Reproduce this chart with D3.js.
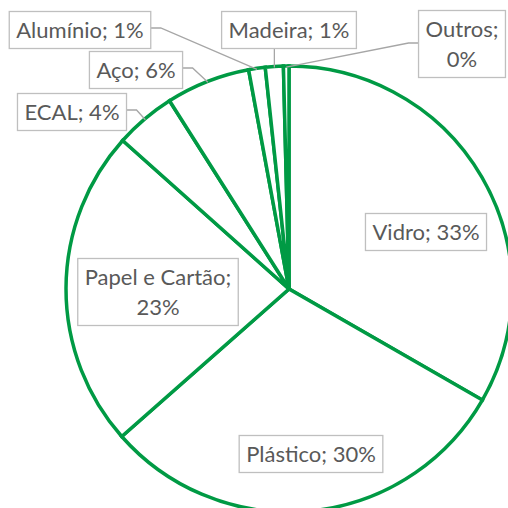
<!DOCTYPE html>
<html>
<head>
<meta charset="utf-8">
<script src="https://cdn.jsdelivr.net/npm/d3@7"></script>
<style>
  html, body { margin: 0; padding: 0; background: #fff; }
  svg { display: block; }
  .lbl text { font-family: Lato, "Open Sans", sans-serif; fill: #595959; }
</style>
</head>
<body>
<svg id="chart"></svg>
<script>
// data (share of total, %)
const categories = ["Vidro", "Plástico", "Papel e Cartão", "ECAL", "Aço", "Alumínio", "Madeira", "Outros"];
const shares = [33.3, 30.2, 23.1, 4.4, 6.1, 1.2, 1.3, 0.4];

// where each data label sits and how its leader line leaves the box
const labelLayout = [
    {cx: 426, cy: 232, wrap: false, leader: null},
    {cx: 311, cy: 454, wrap: false, leader: null},
    {cx: 158, cy: 292, wrap: true,  leader: null},
    {cx: 72,  cy: 112, wrap: false, leader: "right"},
    {cx: 136, cy: 70,  wrap: false, leader: "right"},
    {cx: 80,  cy: 30,  wrap: false, leader: "right"},
    {cx: 289, cy: 30,  wrap: false, leader: "bottom"},
    {cx: 462, cy: 44,  wrap: true,  leader: "left"}
];

var width = 508,
    height = 508,
    cx = 289,
    cy = 289,
    radius = 223,
    green = "#009a44";

var svg = d3.select("#chart")
    .attr("width", width)
    .attr("height", height);

var data = categories.map(function(c, i) { return {name: c, value: shares[i]}; });
var total = d3.sum(shares);

var pie = d3.pie()
    .sort(null)
    .value(function(d) { return d.value; });

var arc = d3.arc()
    .innerRadius(0)
    .outerRadius(radius);

var arcs = pie(data);

var g = svg.append("g")
    .attr("transform", "translate(" + cx + "," + cy + ")");

g.selectAll("path.slice")
    .data(arcs)
    .enter().append("path")
    .attr("class", "slice")
    .attr("d", arc)
    .attr("fill", "#fff")
    .attr("stroke", green)
    .attr("stroke-width", 3.5)
    .attr("stroke-linejoin", "miter");

var pct = function(v) { return Math.round(v / total * 100) + "%"; };

// leader lines
var lines = svg.append("g");
var labels = svg.append("g").attr("class", "lbl");

arcs.forEach(function(a, i) {
    var lay = labelLayout[i],
        name = a.data.name,
        textLines = lay.wrap ? [name + ";", pct(a.value)] : [name + "; " + pct(a.value)];

    var lg = labels.append("g");
    var rect = lg.append("rect")
        .attr("fill", "#fff")
        .attr("stroke", "#bfbfbf")
        .attr("stroke-width", 1.3);

    var lh = 30,
        fs = 22;
    var t = lg.append("text")
        .attr("text-anchor", "middle")
        .attr("font-size", fs);
    textLines.forEach(function(s, k) {
        t.append("tspan")
            .attr("x", lay.cx)
            .attr("y", lay.cy + (k - (textLines.length - 1) / 2) * lh + fs * 0.36)
            .text(s);
    });

    var bb = t.node().getBBox(),
        padX = 7,
        bh = textLines.length * lh + 7,
        bw = bb.width + 2 * padX,
        x0 = lay.cx - bw / 2,
        y0 = lay.cy - bh / 2;
    rect.attr("x", x0).attr("y", y0).attr("width", bw).attr("height", bh);

    if (lay.leader) {
        var mid = (a.startAngle + a.endAngle) / 2,
            ex = cx + Math.sin(mid) * (radius - 1),
            ey = cy - Math.cos(mid) * (radius - 1),
            pts;
        if (lay.leader === "right") {
            pts = [[x0 + bw, lay.cy - 2], [x0 + bw + 10, lay.cy - 2], [ex, ey]];
        } else if (lay.leader === "left") {
            pts = [[x0, lay.cy - 1], [x0 - 10, lay.cy - 1], [ex, ey]];
        } else {
            pts = [[ex, y0 + bh], [ex, ey]];
        }
        lines.append("path")
            .attr("d", d3.line()(pts))
            .attr("fill", "none")
            .attr("stroke", "#a6a6a6")
            .attr("stroke-width", 1.3);
    }
});
</script>
</body>
</html>
